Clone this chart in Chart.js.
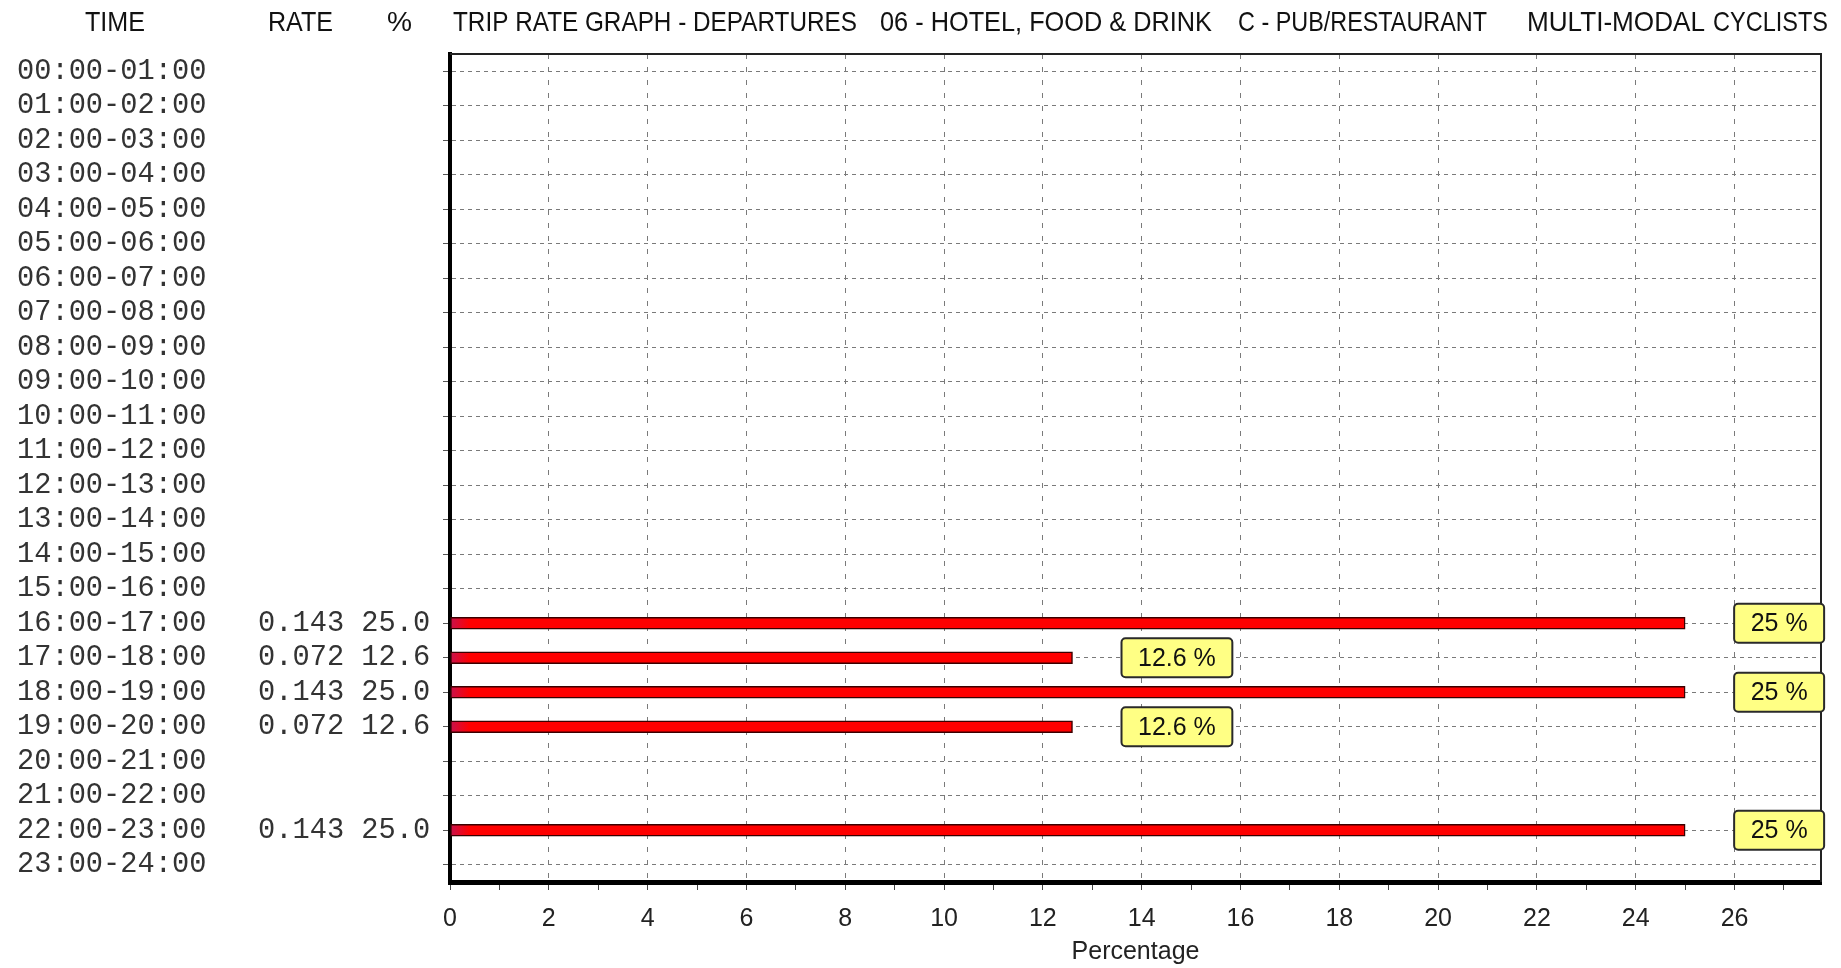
<!DOCTYPE html>
<html>
<head>
<meta charset="utf-8">
<script src="https://cdn.jsdelivr.net/npm/chart.js@4"></script>
<style>
html, body { margin: 0; padding: 0; background: #fff; }
canvas { display: block; }
</style>
</head>
<body>
<canvas id="tripChart" width="1841" height="968"></canvas>
<script>
const hours = [
    '00:00-01:00', '01:00-02:00', '02:00-03:00', '03:00-04:00', '04:00-05:00', '05:00-06:00',
    '06:00-07:00', '07:00-08:00', '08:00-09:00', '09:00-10:00', '10:00-11:00', '11:00-12:00',
    '12:00-13:00', '13:00-14:00', '14:00-15:00', '15:00-16:00', '16:00-17:00', '17:00-18:00',
    '18:00-19:00', '19:00-20:00', '20:00-21:00', '21:00-22:00', '22:00-23:00', '23:00-24:00'
];
const rates = [
    null, null, null, null, null, null, null, null, null, null, null, null,
    null, null, null, null, 0.143, 0.072, 0.143, 0.072, null, null, 0.143, null
];
const percents = [
    null, null, null, null, null, null, null, null, null, null, null, null,
    null, null, null, null, 25.0, 12.6, 25.0, 12.6, null, null, 25.0, null
];
const xMax = 27.75;
const xLabelStep = 2;

const headerTexts = [
    { text: 'TIME', x0: 85, x1: 145 },
    { text: 'RATE', x0: 268, x1: 333 },
    { text: '%', x0: 387, x1: 412 },
    { text: 'TRIP RATE GRAPH - DEPARTURES', x0: 453, x1: 857 },
    { text: '06 - HOTEL, FOOD & DRINK', x0: 880, x1: 1212 },
    { text: 'C - PUB/RESTAURANT', x0: 1238, x1: 1487 },
    { text: 'MULTI-MODAL', x0: 1527, x1: 1705 },
    { text: 'CYCLISTS', x0: 1713, x1: 1828 }
];

function rowLabel(i) {
    if (rates[i] == null) return hours[i];
    return hours[i] + '   ' + rates[i].toFixed(3) + ' ' + percents[i].toFixed(1);
}

// draw text squeezed to a given width (the original uses a narrow font)
function drawNarrow(ctx, text, x, y, width) {
    const w = ctx.measureText(text).width;
    ctx.save();
    ctx.translate(x, y);
    ctx.scale(width / w, 1);
    ctx.fillText(text, 0, 0);
    ctx.restore();
}

const headerPlugin = {
    id: 'header',
    afterDraw(chart) {
        const ctx = chart.ctx;
        ctx.save();
        ctx.fillStyle = '#111';
        ctx.font = '28px "Liberation Sans", Arial, sans-serif';
        ctx.textAlign = 'left';
        ctx.textBaseline = 'alphabetic';
        headerTexts.forEach(h => drawNarrow(ctx, h.text, h.x0, 31, h.x1 - h.x0));
        ctx.restore();
    }
};

const frameAndLabels = {
    id: 'frameAndLabels',
    afterDatasetsDraw(chart) {
        const ctx = chart.ctx;
        const area = chart.chartArea;
        ctx.save();
        // thin top / right frame
        ctx.strokeStyle = '#222';
        ctx.lineWidth = 2;
        ctx.beginPath();
        ctx.moveTo(area.left, area.top);
        ctx.lineTo(area.right, area.top);
        ctx.lineTo(area.right, area.bottom);
        ctx.stroke();

        // yellow value boxes
        ctx.font = '25px "Liberation Sans", Arial, sans-serif';
        ctx.textBaseline = 'middle';
        ctx.textAlign = 'center';
        const meta = chart.getDatasetMeta(0);
        meta.data.forEach((bar, i) => {
            const v = percents[i];
            if (v == null) return;
            const text = (+v.toFixed(1)) + ' %';
            const tw = ctx.measureText(text).width;
            const bw = tw + 33, bh = 39;
            const bx = bar.x + 49, by = bar.y - bh / 2;
            ctx.beginPath();
            ctx.roundRect(bx, by, bw, bh, 4);
            ctx.fillStyle = '#ffff84';
            ctx.fill();
            ctx.lineWidth = 2;
            ctx.strokeStyle = '#2a2a2a';
            ctx.stroke();
            ctx.fillStyle = '#111';
            ctx.fillText(text, bx + bw / 2, bar.y + 1);
        });
        ctx.restore();
    }
};

const ctx = document.getElementById('tripChart');

new Chart(ctx, {
    type: 'bar',
    data: {
        labels: hours.map((h, i) => rowLabel(i)),
        datasets: [{
            data: percents,
            backgroundColor: function(c) {
                const area = c.chart.chartArea;
                if (!area) return '#ff0000';
                const g = c.chart.ctx.createLinearGradient(area.left, 0, area.left + 20, 0);
                g.addColorStop(0, '#c8124e');
                g.addColorStop(1, '#ff0000');
                return g;
            },
            borderColor: '#3a0000',
            borderWidth: 1.5,
            borderSkipped: false,
            barThickness: 12
        }]
    },
    options: {
        indexAxis: 'y',
        responsive: false,
        devicePixelRatio: 1,
        animation: false,
        layout: { padding: { top: 54, left: 17, right: 20, bottom: 0 } },
        plugins: {
            legend: { display: false },
            tooltip: { enabled: false }
        },
        scales: {
            y: {
                type: 'category',
                offset: true,
                afterFit(scale) { scale.width = 433; },
                grid: {
                    offset: false,
                    color: '#7a7a7a',
                    lineWidth: 1,
                    tickLength: 7,
                    tickColor: '#555',
                    tickBorderDash: []
                },
                border: { color: '#000', width: 4, dash: [4, 4] },
                ticks: {
                    crossAlign: 'far',
                    padding: 4,
                    color: '#333',
                    font: { family: '"Liberation Mono", "DejaVu Sans Mono", monospace', size: 28.7 },
                    autoSkip: false
                }
            },
            x: {
                type: 'linear',
                min: 0,
                max: xMax,
                afterFit(scale) { scale.height = 86; },
                grid: {
                    color: c => (c.tick && c.tick.value % xLabelStep === 0) ? '#7a7a7a' : 'rgba(0,0,0,0)',
                    lineWidth: 1,
                    tickLength: 8,
                    tickColor: '#444',
                    tickBorderDash: []
                },
                border: { color: '#000', width: 5, dash: [5, 8] },
                ticks: {
                    stepSize: 1,
                    includeBounds: false,
                    padding: 14,
                    maxRotation: 0,
                    autoSkip: false,
                    color: '#222',
                    font: { family: '"Liberation Sans", Arial, sans-serif', size: 25 },
                    callback: v => (v % xLabelStep === 0 ? v : '')
                },
                title: {
                    display: true,
                    text: 'Percentage',
                    color: '#222',
                    font: { family: '"Liberation Sans", Arial, sans-serif', size: 25 },
                    padding: { top: 0, bottom: 1 }
                }
            }
        }
    },
    plugins: [headerPlugin, frameAndLabels]
});
</script>
</body>
</html>
